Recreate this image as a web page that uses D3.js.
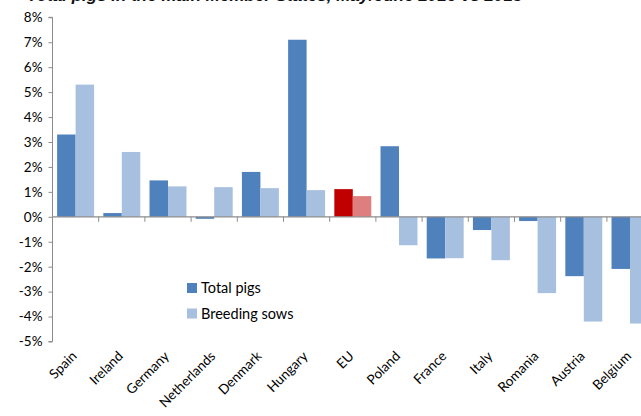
<!DOCTYPE html>
<html>
<head>
<meta charset="utf-8">
<script src="https://cdn.jsdelivr.net/npm/d3@7"></script>
<style>
  html, body { margin: 0; padding: 0; background: #fff; overflow: hidden; }
  svg { display: block; font-family: Lato, "Open Sans", sans-serif; }
</style>
</head>
<body>
<svg id="chart" width="641" height="416"></svg>
<script>
// Year-on-year change by member state (%)
const categories = ["Spain", "Ireland", "Germany", "Netherlands", "Denmark", "Hungary", "EU",
                    "Poland", "France", "Italy", "Romania", "Austria", "Belgium"];
const totalPigs     = [3.3, 0.15, 1.46, -0.08, 1.8, 7.1, 1.11, 2.83, -1.67, -0.53, -0.17, -2.38, -2.09];
const breedingSows  = [5.3, 2.6, 1.22, 1.19, 1.15, 1.07, 0.83, -1.14, -1.66, -1.74, -3.06, -4.2, -4.28];
const seriesNames   = ["Total pigs", "Breeding sows"];
const yTicks        = [-5, -4, -3, -2, -1, 0, 1, 2, 3, 4, 5, 6, 7, 8];
const titleText     = "Total pigs in the main Member States, May/June 2016 vs 2015";

const colors   = { "Total pigs": "#4F81BD", "Breeding sows": "#A7C0DF" };
const euColors = { "Total pigs": "#C00000", "Breeding sows": "#DE7F7F" };

const svg = d3.select("#chart");
const axisColor = "#8C8C8C";

const left = 52.5, step = 46.2;
const x = d3.scaleBand()
  .domain(categories)
  .range([left, left + step * categories.length])
  .paddingInner(0.2)
  .paddingOuter(0.1);
const xSub = d3.scaleBand().domain(seriesNames).range([0, x.bandwidth()]);
const y = d3.scaleLinear().domain([-5, 8]).range([341.5, 17.3]);

// Title (runs off the top edge of the page)
svg.append("text")
  .attr("x", 27).attr("y", 1)
  .attr("font-family", "'Liberation Sans', Arial, sans-serif")
  .attr("font-weight", "bold").attr("font-style", "italic")
  .attr("font-size", 17).attr("fill", "#111")
  .text(titleText);

// Bars
const rows = categories.map((c, i) => ({ c, vals: [totalPigs[i], breedingSows[i]] }));
const groups = svg.append("g").selectAll("g").data(rows).join("g")
  .attr("transform", d => `translate(${x(d.c)},0)`);
groups.selectAll("rect")
  .data(d => d.vals.map((v, k) => ({ c: d.c, s: seriesNames[k], v })))
  .join("rect")
  .attr("x", d => xSub(d.s))
  .attr("width", xSub.bandwidth())
  .attr("y", d => y(Math.max(0, d.v)))
  .attr("height", d => Math.abs(y(d.v) - y(0)))
  .attr("fill", d => d.c === "EU" ? euColors[d.s] : colors[d.s]);

// Y axis
const yAxis = svg.append("g")
  .attr("transform", `translate(${left},0)`)
  .call(d3.axisLeft(y).tickValues(yTicks).tickSize(4).tickPadding(6)
    .tickFormat(d => d + "%"));
yAxis.select(".domain").attr("stroke", axisColor).attr("d", `M-4,${y(8)}H0V${y(-5)}H-4`);
yAxis.selectAll(".tick line").attr("stroke", axisColor);
yAxis.selectAll(".tick text")
  .attr("font-family", "Lato, 'Open Sans', sans-serif")
  .attr("font-size", 13.5).attr("fill", "#000");

// Zero baseline with category separators
svg.append("line")
  .attr("x1", left).attr("x2", 641)
  .attr("y1", y(0)).attr("y2", y(0))
  .attr("stroke", axisColor).attr("stroke-width", 1.3);
svg.append("g").selectAll("line")
  .data(categories.slice(1))
  .join("line")
  .attr("x1", d => x(d) - x.step() * x.paddingInner() / 2)
  .attr("x2", d => x(d) - x.step() * x.paddingInner() / 2)
  .attr("y1", y(0)).attr("y2", y(0) + 5)
  .attr("stroke", axisColor);

// Category labels
svg.append("g").selectAll("text")
  .data(categories)
  .join("text")
  .attr("text-anchor", "end")
  .attr("font-size", 13.5)
  .attr("fill", "#000")
  .attr("transform", d => `translate(${x(d) + x.bandwidth() / 2 + 2},${357}) rotate(-45)`)
  .text(d => d);

// Legend
const legend = svg.append("g").selectAll("g")
  .data(seriesNames)
  .join("g")
  .attr("transform", (d, i) => `translate(187,${283 + i * 25.5})`);
legend.append("rect").attr("width", 10).attr("height", 10).attr("fill", d => colors[d]);
legend.append("text")
  .attr("x", 14).attr("y", 10)
  .attr("font-size", 14.5).attr("fill", "#000")
  .text(d => d);
</script>
</body>
</html>
